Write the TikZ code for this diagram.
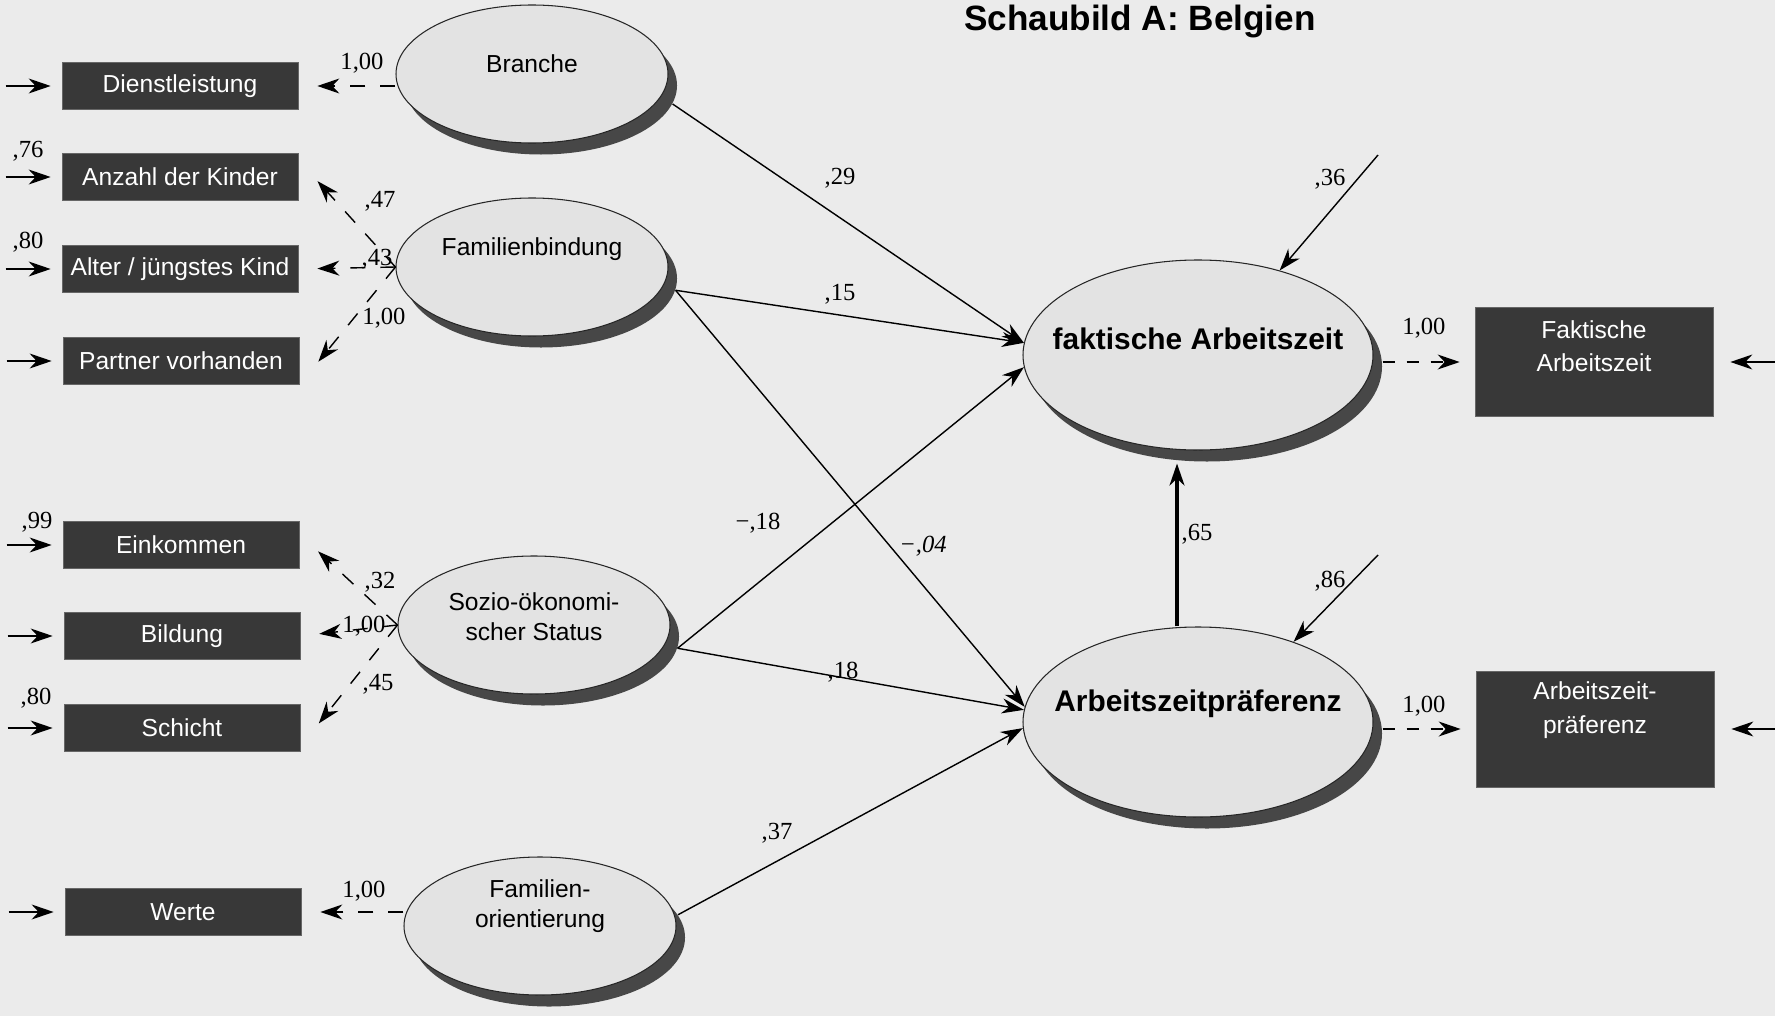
\documentclass[tikz,border=0pt]{standalone}
\usepackage{fontspec}
\setmainfont{Liberation Serif}
\setsansfont{Liberation Sans}
\usetikzlibrary{shapes.geometric,arrows.meta,shadows,calc}

\begin{document}
\begin{tikzpicture}[x=0.2mm,y=-0.2mm,
    ind/.style={draw=black!60,fill=black!78,text=white,inner sep=0pt,
      font=\sffamily\fontsize{14}{17}\selectfont,minimum width=47.2mm,minimum height=9.5mm},
    lat/.style={ellipse,draw=black!85,line width=0.6pt,fill=black!11,inner sep=0pt,
      minimum width=54.4mm,minimum height=27.6mm,
      drop shadow={shadow xshift=1.8mm,shadow yshift=-2.3mm,fill=black!72,opacity=1}},
    biglat/.style={lat,minimum width=70mm,minimum height=38mm},
    ltxt/.style={font=\sffamily\fontsize{14}{17}\selectfont,align=center,inner sep=0pt},
    btxt/.style={font=\sffamily\bfseries\fontsize{17}{20}\selectfont,inner sep=0pt},
    coef/.style={font=\fontsize{14}{16}\selectfont,inner sep=1pt},
    pth/.style={-{Stealth[length=4.4mm,width=3mm,inset=1.4mm]},line width=0.8pt},
    ld/.style={pth,dash pattern=on 3mm off 3mm}]
  \useasboundingbox (0,0) rectangle (1775,1016);
  \fill[black!8] (0,0) rectangle (1775,1016);

  % title
  \node[font=\sffamily\bfseries\fontsize{20}{24}\selectfont] (title) at (1140,21) {Schaubild A: Belgien};

  % indicators left
  \node[ind] (dl) at (180,86)  {Dienstleistung};
  \node[ind] (ak) at (180,177) {Anzahl der Kinder};
  \node[ind] (aj) at (180,269) {Alter / jüngstes Kind};
  \node[ind] (pv) at (181,361) {Partner vorhanden};
  \node[ind] (ek) at (181,545) {Einkommen};
  \node[ind] (bi) at (182,636) {Bildung};
  \node[ind] (sc) at (182,728) {Schicht};
  \node[ind] (we) at (183,912) {Werte};

  % latent variables left
  \node[lat] (br) at (532,74)  {};
  \node[lat] (fb) at (532,267) {};
  \node[lat] (so) at (534,625) {};
  \node[lat] (fo) at (540,926) {};
  \node[ltxt] (brtxt) at ($(br)+(0,-10)$) {Branche};
  \node[ltxt] (fbtxt) at ($(fb)+(0,-18)$) {Familienbindung};
  \node[ltxt] (sotxt) at ($(so)+(0,-8)$)  {Sozio-ökonomi-\\scher Status};
  \node[ltxt] (fotxt) at ($(fo)+(0,-20)$) {Familien-\\orientierung};

  % latent variables right
  \node[biglat] (fa)  at (1198,355) {};
  \node[biglat] (azp) at (1198,722) {};
  \node[btxt] (fatxt)  at ($(fa)+(0,-16)$)  {faktische Arbeitszeit};
  \node[btxt] (azptxt) at ($(azp)+(0,-18)$) {Arbeitszeitpräferenz};

  % indicators right
  \node[ind,minimum width=47.6mm,minimum height=21.8mm] (fabox) at (1594,362) {};
  \node[ind,minimum width=47.6mm,minimum height=23.2mm] (apbox) at (1595,729) {};
  \node[ltxt,text=white,font=\sffamily\fontsize{14}{19}\selectfont] (faboxtxt) at (1594,346) {Faktische\\Arbeitszeit};
  \node[ltxt,text=white,font=\sffamily\fontsize{14}{19}\selectfont] (apboxtxt) at (1595,710) {Arbeitszeit-\\präferenz};

  % error terms
  \foreach \b in {dl,ak,aj,pv,ek,bi,sc,we}{
    \coordinate (\b-in) at ([xshift=-11.2mm]\b.west);
    \draw[pth,shorten >=2.2mm] (\b-in) -- (\b.west);
  }
  \coordinate (fabox-in) at ([xshift=12.4mm]fabox.east);
  \coordinate (apbox-in) at ([xshift=12.4mm]apbox.east);
  \draw[pth,shorten >=3.4mm] (fabox-in) -- (fabox.east);
  \draw[pth,shorten >=3.4mm] (apbox-in) -- (apbox.east);
  \coordinate (e36) at (1378,155);
  \coordinate (e86) at (1378,555);
  \draw[pth] (e36) -- (fa.46);
  \draw[pth] (e86) -- (azp.40);

  % measurement paths
  \draw[ld,shorten >=3.8mm] (br.west |- dl.east) -- (dl.east);
  \draw[ld,shorten >=5.7mm] (fb.west) -- ([yshift=3.4mm]ak.east);
  \draw[ld,shorten >=3.8mm] (fb.west) -- (aj.east);
  \draw[ld,shorten >=6mm]   (fb.west) -- ([yshift=-4.8mm]pv.east);
  \draw[ld,shorten >=5.1mm] (so.west) -- ([yshift=2.2mm]ek.east);
  \draw[ld,shorten >=3.8mm] (so.west) -- (bi.east);
  \draw[ld,shorten >=5.9mm] (so.west) -- ([yshift=-3.7mm]sc.east);
  \draw[ld,shorten >=3.8mm] (fo.west |- we.east) -- (we.east);
  \draw[ld,dash pattern=on 2.4mm off 2.4mm,shorten >=3mm] ($(fa.east |- fabox.west)+(9,0)$) -- (fabox.west);
  \draw[ld,dash pattern=on 2.4mm off 2.4mm,shorten >=3mm] ($(azp.east |- apbox.west)+(9,0)$) -- (apbox.west);

  % structural paths
  \draw[pth] ([xshift=1.8mm,yshift=-2.3mm]br.-8) -- (fa.176);
  \draw[pth] ([xshift=1.8mm,yshift=-2.3mm]fb.-5) -- (fa.176);
  \draw[pth] ([xshift=1.8mm,yshift=-2.3mm]fb.-5) -- (azp.175);
  \draw[pth] ([xshift=1.8mm,yshift=-2.3mm]so.-5) -- (fa.184);
  \draw[pth] ([xshift=1.8mm,yshift=-2.3mm]so.-5) -- (azp.176);
  \draw[pth] ([xshift=1.8mm,yshift=-2.3mm]fo.10) -- (azp.182);
  \draw[pth,line width=1.8pt] ([xshift=-4.2mm]azp.north) -- ([xshift=-4.2mm,yshift=-2.6mm]fa.south);

  % coefficients
  \node[coef] (c1)  at (28,151)  {,76};
  \node[coef] (c2)  at (28,242)  {,80};
  \node[coef] (c3)  at (37,522)  {,99};
  \node[coef] (c4)  at (36,698)  {,80};
  \node[coef] (c5)  at (362,63)  {1,00};
  \node[coef] (c6)  at (380,201) {,47};
  \node[coef] (c7)  at (377,259) {,43};
  \node[coef] (c8)  at (384,318) {1,00};
  \node[coef] (c9)  at (380,582) {,32};
  \node[coef] (c10) at (364,626) {1,00};
  \node[coef] (c11) at (378,684) {,45};
  \node[coef] (c12) at (364,891) {1,00};
  \node[coef] (c13) at (840,178) {,29};
  \node[coef] (c14) at (840,294) {,15};
  \node[coef] (c15) at (758,523) {−,18};
  \node[coef] (c16) at (923,546) {\itshape −,04};
  \node[coef] (c17) at (843,672) {,18};
  \node[coef] (c18) at (777,833) {,37};
  \node[coef] (c19) at (1197,534) {,65};
  \node[coef] (c20) at (1330,179) {,36};
  \node[coef] (c21) at (1330,581) {,86};
  \node[coef] (c22) at (1424,328) {1,00};
  \node[coef] (c23) at (1424,706) {1,00};
\end{tikzpicture}
\end{document}
